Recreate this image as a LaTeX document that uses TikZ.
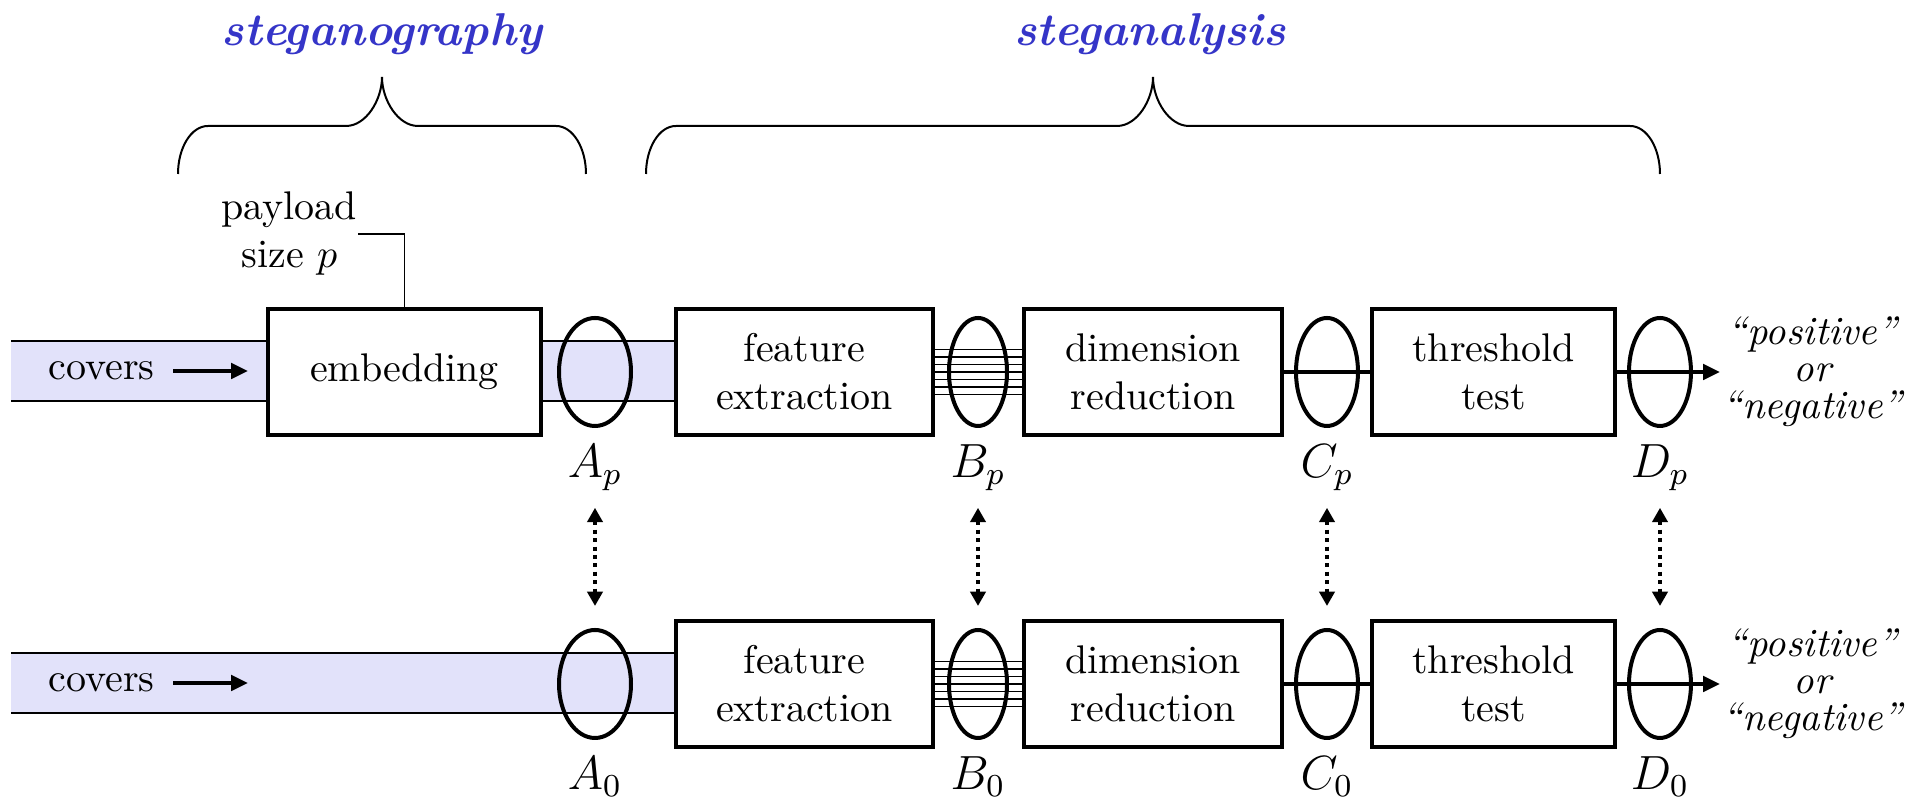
\documentclass[tikz,border=0pt]{standalone}
\usepackage{amsmath}
\usepackage{xcolor}
\usepackage{tikz}
\usetikzlibrary{arrows.meta,positioning,calc,shapes.geometric,backgrounds}
\definecolor{Phase}{HTML}{3535C8}
\definecolor{BandFill}{HTML}{E2E2FA}
\tikzset{
  stage/.style={
    draw, line width=1pt, fill=white, align=center,
    minimum height=31.5pt, inner sep=0pt
  },
  probe/.style={ellipse, draw, line width=1pt, minimum height=27pt, inner sep=0pt},
  tap/.style={font=\large, inner sep=2pt},
  phase/.style={font=\fontsize{11.5}{14}\selectfont\bfseries\itshape, text=Phase, anchor=base},
  verdict/.style={font=\fontsize{10}{9.2}\selectfont\itshape, align=center, inner sep=.5pt, anchor=west},
  thinLine/.style={line width=.45pt},
  thickLine/.style={line width=1pt},
  arr/.style={-{Triangle[length=4.2pt,width=3.8pt]},line width=1pt},
  swapArr/.style={{Triangle[length=3.6pt,width=3.8pt]}-{Triangle[length=3.6pt,width=3.8pt]},
    line width=1pt, dash pattern=on 1pt off 1.1pt},
  curly/.style={line width=.5pt}
}

\begin{document}
\begin{tikzpicture}[x=0.25pt,y=-0.25pt]
  \useasboundingbox (0,0) rectangle (1921,799);

  % headings and braces
  \node[phase] (hGraphy) at (382,46) {steganography};
  \node[phase] (hAnalysis) at (1150,46) {steganalysis};
  \foreach \l/\m/\r in {178/382/586, 646/1153/1660}
    \draw[curly] (\l,174) .. controls (\l,148) and (\l+13,126) .. (\l+30,126)
      -- (\m-36,126) .. controls (\m-16,126) and (\m,100) .. (\m,77)
      .. controls (\m,100) and (\m+16,126) .. (\m+36,126)
      -- (\r-30,126) .. controls (\r-13,126) and (\r,148) .. (\r,174);

  % stego row
  \node[inner sep=0pt] (cov1) at (101.5,371) {covers};
  \coordinate (cov1tip) at (248,371);
  \node[stage,minimum width=68.25pt] (embed) at (404.5,372) {embedding};
  \node[anchor=east,align=center,inner sep=0pt] (payload) at (358,234) {payload\\size $p$};
  \node[probe,minimum width=18pt] (Ap) at (595,372) {};
  \node[stage,minimum width=64.25pt] (feat1) at (804.5,372) {feature\\extraction};
  \node[probe,minimum width=14.5pt] (Bp) at (978,372) {};
  \node[stage,minimum width=64.5pt] (dim1) at (1153,372) {dimension\\reduction};
  \node[probe,minimum width=15.5pt] (Cp) at (1327,372) {};
  \node[stage,minimum width=60.75pt] (thr1) at (1493.5,372) {threshold\\test};
  \node[probe,minimum width=15.5pt] (Dp) at (1660,372) {};
  \node[verdict] (out1) at (1720,372) {``positive''\\or\\``negative''};

  % cover row
  \node[inner sep=0pt] (cov0) at (101.5,683) {covers};
  \coordinate (cov0tip) at (248,683);
  \node[probe,minimum width=18pt] (A0) at (595,684) {};
  \node[stage,minimum width=64.25pt] (feat0) at (804.5,684) {feature\\extraction};
  \node[probe,minimum width=14.5pt] (B0) at (978,684) {};
  \node[stage,minimum width=64.5pt] (dim0) at (1153,684) {dimension\\reduction};
  \node[probe,minimum width=15.5pt] (C0) at (1327,684) {};
  \node[stage,minimum width=60.75pt] (thr0) at (1493.5,684) {threshold\\test};
  \node[probe,minimum width=15.5pt] (D0) at (1660,684) {};
  \node[verdict] (out0) at (1720,684) {``positive''\\or\\``negative''};

  % point labels
  \node[tap,below=2pt of Ap] (lAp) {$A_p$};
  \node[tap,below=2pt of Bp] (lBp) {$B_p$};
  \node[tap,below=2pt of Cp] (lCp) {$C_p$};
  \node[tap,below=2pt of Dp] (lDp) {$D_p$};
  \node[tap,below=2pt of A0] (lA0) {$A_0$};
  \node[tap,below=2pt of B0] (lB0) {$B_0$};
  \node[tap,below=2pt of C0] (lC0) {$C_0$};
  \node[tap,below=2pt of D0] (lD0) {$D_0$};

  % image streams
  \begin{scope}[on background layer]
    \coordinate (in1) at (11,372);
    \coordinate (in0) at (11,684);
    \fill[BandFill] ($(in1)+(0,-31)$) rectangle ($(feat1.west)+(0,29)$);
    \fill[BandFill] ($(in0)+(0,-31)$) rectangle ($(feat0.west)+(0,29)$);
    \draw[thinLine] ($(in1)+(0,-31)$) -- ($(feat1.west)+(0,-31)$);
    \draw[thinLine] ($(in1)+(0,29)$) -- ($(feat1.west)+(0,29)$);
    \draw[thinLine] ($(in0)+(0,-31)$) -- ($(feat0.west)+(0,-31)$);
    \draw[thinLine] ($(in0)+(0,29)$) -- ($(feat0.west)+(0,29)$);
  \end{scope}
  \draw[arr,shorten <=4.5pt] (cov1) -- (cov1tip);
  \draw[arr,shorten <=4.5pt] (cov0) -- (cov0tip);
  \draw[thinLine] (payload.east) -| (embed.north);

  % feature vectors, scalars, decisions
  \foreach \k in {-3,...,3} {
    \draw[thinLine] ($(feat1.east)+(0,\k*7.5)$) -- ($(dim1.west)+(0,\k*7.5)$);
    \draw[thinLine] ($(feat0.east)+(0,\k*7.5)$) -- ($(dim0.west)+(0,\k*7.5)$);
  }
  \draw[thickLine] (dim1) -- (thr1);
  \draw[thickLine] (dim0) -- (thr0);
  \draw[arr] (thr1) -- (out1);
  \draw[arr] (thr0) -- (out0);

  % compare stego and cover
  \draw[swapArr,shorten <=2pt,shorten >=5.5pt] (lAp.south -| Ap) -- (A0);
  \draw[swapArr,shorten <=2pt,shorten >=5.5pt] (lBp.south -| Bp) -- (B0);
  \draw[swapArr,shorten <=2pt,shorten >=5.5pt] (lCp.south -| Cp) -- (C0);
  \draw[swapArr,shorten <=2pt,shorten >=5.5pt] (lDp.south -| Dp) -- (D0);
\end{tikzpicture}
\end{document}
